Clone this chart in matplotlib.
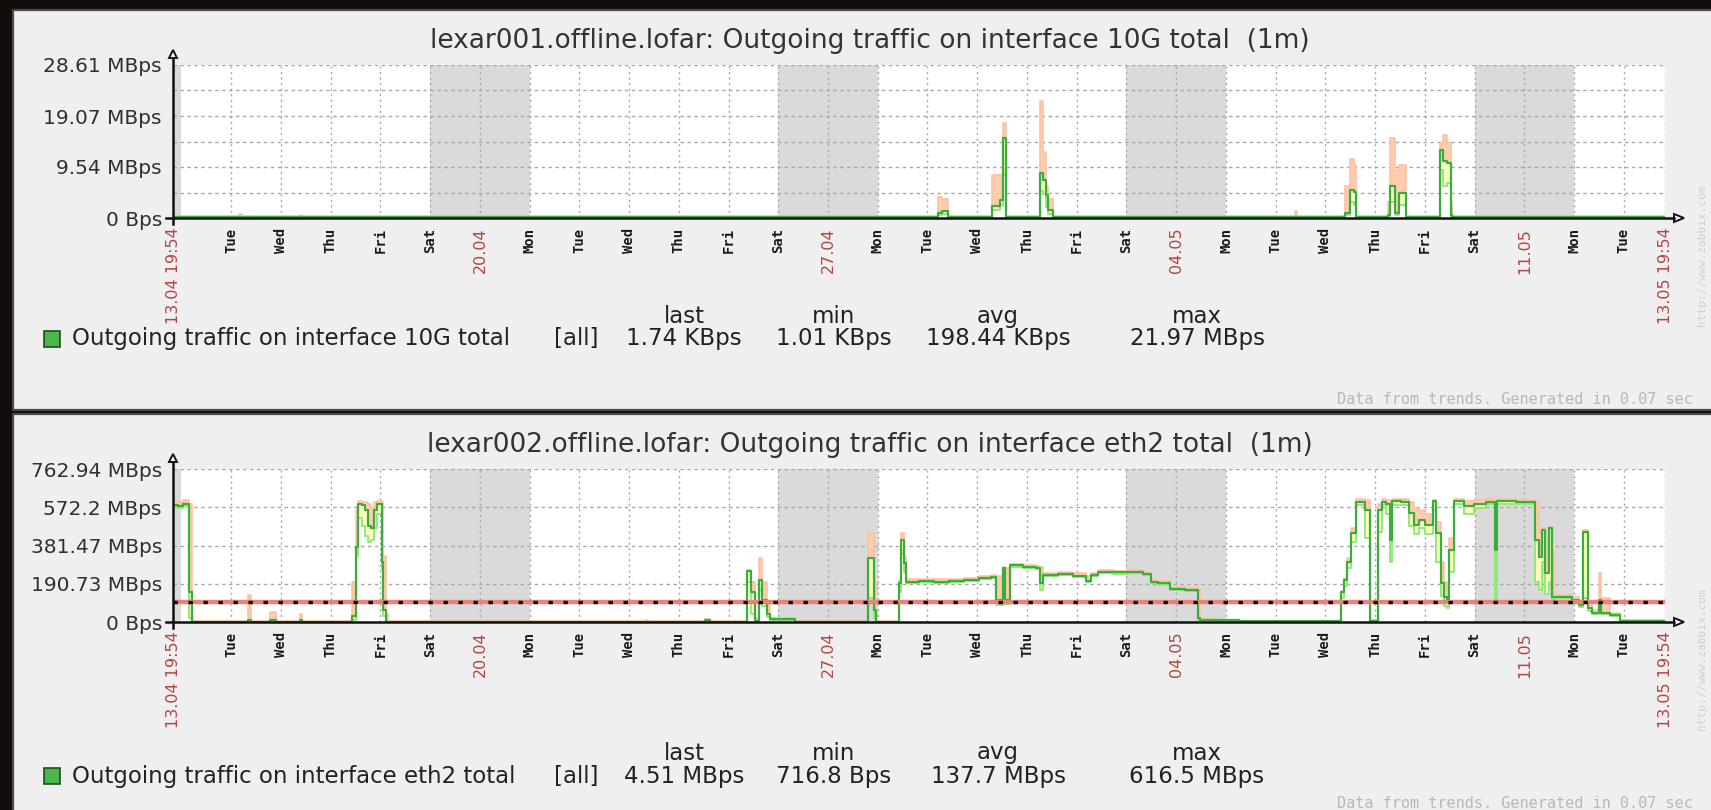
import numpy as np
import matplotlib.pyplot as plt
from matplotlib.patches import Rectangle, Polygon
from matplotlib.lines import Line2D

W, H = 1711, 810

# time axis: days since 13.04 19:54, 30 days long
t_end = 30.0
first_midnight = 4.1 / 24  # 14.04 00:00

# labels of the midnights 15.04 ... 13.05
day_labels = ['Tue', 'Wed', 'Thu', 'Fri', 'Sat', '20.04', 'Mon',
              'Tue', 'Wed', 'Thu', 'Fri', 'Sat', '27.04', 'Mon',
              'Tue', 'Wed', 'Thu', 'Fri', 'Sat', '04.05', 'Mon',
              'Tue', 'Wed', 'Thu', 'Fri', 'Sat', '11.05', 'Mon', 'Tue']
edge_labels = ['13.04 19:54', '13.05 19:54']

# weekends (index of the Saturday midnight counted from 14.04)
weekend_sat = [5, 12, 19, 26]

# panel 1: lexar001, MBps
p1_t = [0, 1.33, 1.38, 2.55, 2.60, 15.39, 15.47, 15.59, 16.47, 16.63, 16.69, 16.74,
        17.43, 17.50, 17.56, 17.60, 17.70, 22.56, 22.60, 23.57, 23.67, 23.74, 23.79,
        24.43, 24.48, 24.57, 24.66, 24.79, 25.48, 25.54, 25.62, 25.69, 25.72, 30]
p1_avg = [0.15, 0.15, 0.15, 0.15, 0.15, 1.0, 1.4, 0.15, 2.2, 3.4, 14.9, 0.15,
          8.4, 7.1, 4.3, 1.5, 0.15, 0.15, 0.15, 1.0, 5.3, 4.8, 0.15,
          0.5, 5.9, 1.0, 4.6, 0.15, 12.8, 10.6, 10.2, 0.5, 0.15, 0.15]
p1_min = [0.01, 0.01, 0.01, 0.01, 0.01, 0.5, 0.8, 0.01, 1.5, 2.5, 8.0, 0.01,
          5.0, 4.5, 2.0, 0.8, 0.01, 0.01, 0.01, 0.6, 3.0, 2.5, 0.01,
          0.2, 3.0, 0.6, 2.5, 0.01, 9.0, 6.0, 6.5, 0.2, 0.01, 0.01]
p1_max = [0.3, 0.8, 0.3, 0.6, 0.3, 3.9, 3.6, 0.3, 8.0, 8.0, 17.8, 0.3,
          21.97, 12.4, 6.0, 3.6, 0.3, 1.4, 0.3, 5.9, 11.0, 10.0, 0.3,
          3.0, 15.0, 9.0, 10.0, 0.3, 14.0, 15.6, 14.1, 3.0, 0.3, 0.3]

# panel 2: lexar002, MBps
p2_t = [0.00, 0.10, 0.20, 0.33, 0.38, 1.50, 1.56, 1.95, 2.08, 2.55,
        2.60, 3.60, 3.68, 3.72, 3.80, 3.86, 3.92, 3.98, 4.04, 4.10,
        4.20, 4.23, 4.28, 4.32, 9.52, 9.56, 10.70, 10.80, 11.55, 11.63,
        11.70, 11.78, 11.85, 11.95, 12.00, 12.50, 13.97, 14.10, 14.13, 14.59,
        14.64, 14.69, 14.73, 15.00, 15.30, 15.60, 15.90, 16.20, 16.45, 16.55,
        16.68, 16.72, 16.82, 17.10, 17.36, 17.44, 17.50, 17.80, 18.10, 18.35,
        18.45, 18.60, 18.90, 19.20, 19.50, 19.67, 19.80, 20.05, 20.35, 20.60,
        20.65, 21.00, 21.43, 23.49, 23.55, 23.60, 23.68, 23.78, 23.96, 24.07,
        24.22, 24.30, 24.40, 24.48, 24.52, 24.70, 24.86, 24.95, 25.05, 25.18,
        25.33, 25.40, 25.49, 25.55, 25.62, 25.66, 25.75, 25.95, 26.15, 26.40,
        26.58, 26.63, 27.00, 27.38, 27.46, 27.52, 27.58, 27.67, 27.73, 27.77,
        28.13, 28.27, 28.36, 28.45, 28.53, 28.67, 28.72, 28.90, 29.10, 30.00]
p2_avg = [585, 580, 590, 150, 2, 10, 2, 8, 2, 8,
          2, 30, 375, 590, 585, 560, 480, 470, 560, 590,
          300, 60, 2, 2, 2, 2, 10, 2, 255, 150,
          5, 210, 110, 40, 15, 2, 318, 60, 2, 195,
          408, 293, 200, 205, 200, 205, 210, 220, 225, 110,
          268, 110, 285, 275, 270, 196, 235, 240, 230, 206,
          235, 250, 248, 250, 240, 200, 193, 165, 160, 20,
          10, 8, 3, 150, 210, 300, 443, 600, 558, 3,
          557, 600, 590, 408, 603, 600, 543, 483, 508, 483,
          603, 443, 193, 125, 110, 358, 603, 580, 590, 600,
          358, 602, 600, 408, 325, 458, 243, 468, 125, 125,
          110, 85, 448, 70, 45, 110, 45, 35, 3, 4.5]
p2_min = [575, 570, 580, 20, 1, 3, 1, 3, 1, 3,
          1, 10, 330, 520, 480, 430, 400, 410, 470, 540,
          260, 30, 1, 1, 1, 1, 5, 1, 200, 40,
          2, 160, 80, 25, 12, 1, 120, 20, 1, 150,
          340, 250, 193, 198, 193, 198, 203, 212, 217, 85,
          200, 90, 275, 267, 262, 160, 227, 232, 222, 198,
          227, 242, 240, 242, 232, 192, 185, 158, 153, 12,
          6, 5, 1, 120, 180, 270, 400, 585, 420, 1,
          450, 585, 540, 300, 585, 585, 480, 440, 470, 440,
          560, 300, 130, 80, 70, 250, 590, 540, 570, 590,
          95, 590, 590, 200, 160, 300, 140, 200, 110, 118,
          100, 75, 120, 55, 38, 60, 38, 30, 2, 2]
p2_max = [605, 600, 608, 590, 5, 135, 5, 48, 5, 40,
          5, 200, 560, 605, 600, 600, 590, 570, 600, 605,
          600, 330, 40, 5, 12, 5, 15, 5, 260, 200,
          20, 318, 200, 100, 20, 5, 443, 200, 5, 210,
          445, 330, 215, 215, 212, 215, 220, 230, 235, 230,
          275, 270, 290, 285, 280, 275, 245, 250, 245, 230,
          245, 258, 256, 258, 248, 210, 205, 175, 170, 165,
          15, 12, 5, 155, 220, 320, 470, 615, 610, 10,
          590, 612, 610, 600, 615, 612, 600, 570, 560, 540,
          610, 500, 300, 200, 160, 420, 615, 605, 610, 612,
          600, 612, 610, 600, 450, 470, 350, 480, 360, 135,
          125, 100, 460, 100, 60, 245, 120, 45, 8, 8]
p2_threshold = 100

assert len(p1_t) == len(p1_avg) == len(p1_min) == len(p1_max)
assert len(p2_t) == len(p2_avg) == len(p2_min) == len(p2_max)

p1_yticks = [0, 9.54, 19.07, 28.61]
p1_ylabels = ['0 Bps', '9.54 MBps', '19.07 MBps', '28.61 MBps']
p2_yticks = [0, 190.73, 381.47, 572.2, 762.94]
p2_ylabels = ['0 Bps', '190.73 MBps', '381.47 MBps', '572.2 MBps', '762.94 MBps']

titles = ['lexar001.offline.lofar: Outgoing traffic on interface 10G total  (1m)',
          'lexar002.offline.lofar: Outgoing traffic on interface eth2 total  (1m)']
legend_names = ['Outgoing traffic on interface 10G total',
                'Outgoing traffic on interface eth2 total']
stat_heads = ['last', 'min', 'avg', 'max']
p1_stats = ['1.74 KBps', '1.01 KBps', '198.44 KBps', '21.97 MBps']
p2_stats = ['4.51 MBps', '716.8 Bps', '137.7 MBps', '616.5 MBps']


def px(x, y):
    return x / W, 1 - y / H


fig = plt.figure(figsize=(W / 100, H / 100), dpi=100)
fig.patch.set_facecolor('#120d0b')

# panel frames
for top, bottom in [(10, 410), (414, 818)]:
    x0, y0 = px(13, bottom)
    fig.add_artist(Rectangle((x0, y0), (1720 - 13) / W, (bottom - top) / H,
                             transform=fig.transFigure, facecolor='#efefef',
                             edgecolor='#4a4a4a', lw=1.6, zorder=-10))


def draw_panel(top, bottom, t, avg, mn, mx, ymax, ngrid, yticks, ylabels,
               title, name, stats, leg_y, threshold=None):
    left, right = 173, 1665
    x0, y0 = px(left, bottom)
    ax = fig.add_axes([x0, y0, (right - left) / W, (bottom - top) / H])
    ax.set_facecolor('white')
    ax.set_xlim(0, t_end)
    ax.set_ylim(0, ymax)
    for s in ax.spines.values():
        s.set_visible(False)

    # non-working time
    ax.axvspan(0, first_midnight, color='#dadada', lw=0, zorder=0)
    for k in weekend_sat:
        ax.axvspan(first_midnight + k, first_midnight + k + 2, color='#dadada', lw=0, zorder=0)

    # grid
    for v in np.linspace(0, ymax, ngrid + 1)[1:]:
        ax.axhline(v, color='#a8a8a8', lw=1, ls=(0, (2.5, 2.5)), zorder=1)
    ticks = [first_midnight + 1 + i for i in range(len(day_labels))]
    for x in ticks + [t_end]:
        ax.axvline(x, color='#a8a8a8', lw=1, ls=(0, (1.5, 2.5)), zorder=1)

    # data (min / avg / max)
    t = np.array(t)
    ax.fill_between(t, avg, mx, step='post', color='#ffcdae', lw=0, zorder=2)
    ax.fill_between(t, mn, avg, step='post', color='#fcfcc0', lw=0, zorder=2)
    ax.step(t, mx, where='post', color='#ffbf9e', lw=1.1, zorder=3)
    ax.step(t, mn, where='post', color='#92ea7c', lw=1.4, zorder=3)
    ax.step(t, avg, where='post', color='#3aae3a', lw=1.6, zorder=4)

    if threshold is not None:
        ax.axhline(threshold, color='#e8837c', lw=3.2, zorder=5)
        ax.axhline(threshold, color='black', lw=2.4, ls=(0, (1.3, 3.2)), zorder=6)

    # ticks
    ax.set_xticks([0] + ticks + [t_end])
    ax.set_xticklabels([edge_labels[0]] + day_labels + [edge_labels[1]], rotation=90)
    ax.tick_params(axis='x', length=0, pad=7)
    for lbl in ax.get_xticklabels():
        if '.' in lbl.get_text():
            lbl.set_color('#b5443f')
            lbl.set_fontsize(11.5)
            lbl.set_fontfamily('DejaVu Sans')
        else:
            lbl.set_color('#1a1a1a')
            lbl.set_fontsize(10)
            lbl.set_fontfamily('DejaVu Sans Mono')
            lbl.set_fontweight('bold')
    ax.set_yticks(yticks)
    ax.set_yticklabels(ylabels, fontsize=14.5, color='#303030')
    ax.tick_params(axis='y', length=0, pad=8)

    # axes with arrows
    ax_col = '#111111'
    fig.add_artist(Line2D([px(left, 0)[0]] * 2, [px(0, bottom + 6)[1], px(0, top - 7)[1]],
                          transform=fig.transFigure, color=ax_col, lw=1.8))
    fig.add_artist(Line2D([px(left - 7, 0)[0], px(right + 9, 0)[0]], [px(0, bottom)[1]] * 2,
                          transform=fig.transFigure, color=ax_col, lw=1.8))
    fig.add_artist(Polygon([px(left - 4, top - 7), px(left + 4, top - 7), px(left, top - 15)],
                           closed=True, transform=fig.transFigure, facecolor='white',
                           edgecolor=ax_col, lw=1.4))
    fig.add_artist(Polygon([px(right + 9, bottom - 4), px(right + 9, bottom + 4), px(right + 19, bottom)],
                           closed=True, transform=fig.transFigure, facecolor='white',
                           edgecolor=ax_col, lw=1.4))

    # title
    fig.text(*px(870, top - 24), title, ha='center', va='center', fontsize=19, color='#333333')

    # legend
    sx, sy = px(44, leg_y + 8)
    fig.add_artist(Rectangle((sx, sy), 16 / W, 16 / H, transform=fig.transFigure,
                             facecolor='#4cb84c', edgecolor='#1f4f1f', lw=1.2))
    fs = 16.5
    fig.text(*px(72, leg_y), name, ha='left', va='center', fontsize=fs, color='#222222')
    fig.text(*px(554, leg_y), '[all]', ha='left', va='center', fontsize=fs, color='#222222')
    for cx, head, val in zip([684, 834, 998, 1197], stat_heads, stats):
        fig.text(*px(cx, leg_y - 23), head, ha='center', va='center', fontsize=fs, color='#222222')
        fig.text(*px(cx, leg_y), val, ha='center', va='center', fontsize=fs, color='#222222')

    fig.text(*px(1693, bottom + 181), 'Data from trends. Generated in 0.07 sec', ha='right',
             va='center', fontsize=11, family='DejaVu Sans Mono', color='#b8b8b8')
    fig.text(*px(1702, top + 190), 'http://www.zabbix.com', rotation=90, ha='center',
             va='center', fontsize=8, family='DejaVu Sans Mono', color='#d0d0d0')
    return ax


draw_panel(65, 218, p1_t, p1_avg, p1_min, p1_max, 28.61, 6, p1_yticks, p1_ylabels,
           titles[0], legend_names[0], p1_stats, 339)
draw_panel(469, 622, p2_t, p2_avg, p2_min, p2_max, 762.94, 4, p2_yticks, p2_ylabels,
           titles[1], legend_names[1], p2_stats, 776, threshold=p2_threshold)

fig.savefig('out.png', dpi=100, facecolor=fig.get_facecolor())
